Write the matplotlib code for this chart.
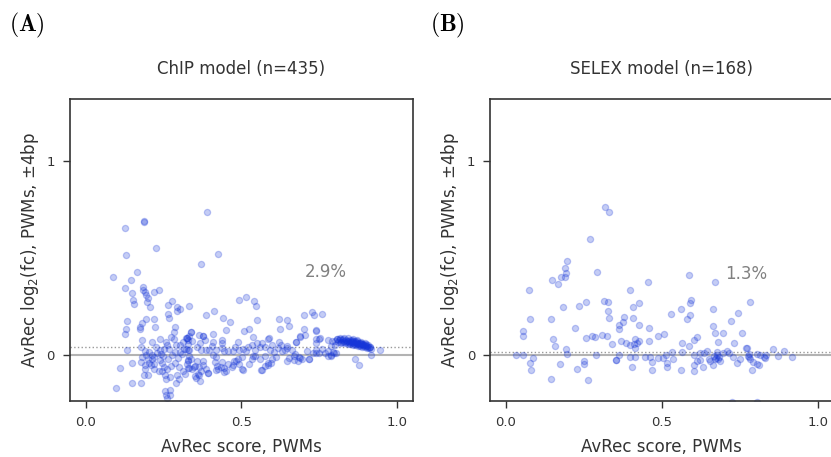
import matplotlib
matplotlib.use("Agg")
import matplotlib.pyplot as plt

plt.rcParams['font.family'] = ['DejaVu Sans']
plt.rcParams['mathtext.fontset'] = 'dejavusans'

# ChIP model (score, log2 fc) pairs
chip_outliers = [
    (0.389, 0.735), (0.186, 0.685), (0.188, 0.688), (0.126, 0.652), (0.130, 0.517),
    (0.227, 0.553), (0.426, 0.522), (0.369, 0.467), (0.087, 0.402), (0.165, 0.428),
    (0.146, 0.387), (0.126, 0.344), (0.183, 0.353), (0.185, 0.337), (0.191, 0.324),
    (0.194, 0.310), (0.200, 0.293), (0.198, 0.274), (0.206, 0.248), (0.149, 0.322),
    (0.153, 0.286), (0.155, 0.262), (0.220, 0.327), (0.236, 0.336), (0.264, 0.260),
    (0.278, 0.279), (0.293, 0.248), (0.304, 0.238), (0.293, 0.226), (0.263, 0.214),
    (0.266, 0.190), (0.333, 0.255), (0.412, 0.229), (0.386, 0.207), (0.440, 0.192),
    (0.492, 0.286), (0.514, 0.300), (0.541, 0.277), (0.547, 0.255), (0.132, 0.175),
    (0.131, 0.135), (0.125, 0.110), (0.194, 0.185), (0.218, 0.185), (0.223, 0.147),
    (0.180, 0.164), (0.176, 0.147), (0.175, 0.134), (0.286, 0.144), (0.285, 0.120),
    (0.464, 0.168), (0.451, 0.130), (0.549, 0.180), (0.621, 0.188), (0.647, 0.182),
    (0.652, 0.151), (0.624, 0.134), (0.701, 0.205), (0.726, 0.224), (0.731, 0.207),
    (0.758, 0.211), (0.702, 0.132), (0.704, 0.106), (0.739, 0.130), (0.739, 0.125),
    (0.507, 0.122), (0.524, 0.137), (0.536, 0.091), (0.587, 0.086), (0.688, 0.092),
    (0.675, 0.068),
]
chip_left = [
    (0.133, 0.029), (0.181, 0.077), (0.212, 0.067), (0.178, 0.044), (0.192, 0.020),
    (0.195, 0.000), (0.202, 0.017), (0.214, 0.003), (0.218, -0.008), (0.212, -0.019),
    (0.180, -0.008), (0.179, -0.035), (0.189, -0.052), (0.192, -0.069), (0.150, -0.038),
    (0.109, -0.068), (0.098, -0.169), (0.148, -0.145), (0.179, -0.145), (0.186, -0.104),
    (0.199, -0.104), (0.201, -0.020), (0.205, -0.038), (0.220, -0.073), (0.237, -0.080),
    (0.240, 0.029), (0.252, 0.033), (0.267, 0.033), (0.257, 0.067), (0.284, 0.081),
    (0.289, 0.050), (0.302, 0.050), (0.314, 0.067), (0.325, 0.089), (0.288, 0.016),
    (0.302, 0.016), (0.316, 0.033), (0.329, 0.028), (0.210, -0.052), (0.221, -0.045),
    (0.244, -0.042), (0.253, -0.063), (0.261, -0.073), (0.244, -0.082), (0.274, -0.056),
    (0.287, -0.042), (0.301, -0.059), (0.314, -0.080), (0.328, -0.066), (0.254, -0.104),
    (0.258, -0.125), (0.270, -0.111), (0.294, -0.104), (0.300, -0.125), (0.318, -0.099),
    (0.256, -0.184), (0.270, -0.178), (0.257, -0.204), (0.272, -0.204), (0.261, -0.223),
    (0.289, -0.145), (0.332, -0.005), (0.329, -0.031), (0.230, 0.010), (0.243, 0.005),
    (0.249, -0.005), (0.238, -0.025), (0.265, -0.020), (0.278, 0.000), (0.296, -0.015),
    (0.310, 0.005), (0.226, 0.042), (0.262, 0.050), (0.275, 0.095), (0.240, 0.085),
]
chip_mid = [
    (0.338, 0.118), (0.333, 0.101), (0.322, 0.089), (0.329, 0.080), (0.340, 0.072),
    (0.327, 0.055), (0.321, 0.033), (0.333, 0.029), (0.365, 0.103), (0.378, 0.101),
    (0.384, 0.077), (0.368, 0.060), (0.357, 0.043), (0.370, 0.029), (0.386, 0.024),
    (0.395, 0.029), (0.406, 0.046), (0.409, 0.067), (0.408, 0.111), (0.436, 0.080),
    (0.439, 0.060), (0.438, 0.038), (0.445, 0.021), (0.417, 0.024), (0.409, 0.003),
    (0.417, -0.009), (0.339, -0.022), (0.329, -0.026), (0.326, -0.048), (0.333, -0.065),
    (0.342, -0.073), (0.356, -0.031), (0.350, -0.056), (0.363, -0.060), (0.377, -0.053),
    (0.370, -0.082), (0.385, -0.073), (0.393, -0.091), (0.377, -0.031), (0.350, -0.108),
    (0.363, -0.104), (0.366, -0.133), (0.355, -0.116), (0.420, -0.056), (0.424, -0.073),
    (0.434, -0.059), (0.445, -0.065), (0.449, -0.082), (0.436, -0.036), (0.458, -0.045),
    (0.414, -0.034), (0.468, -0.062), (0.477, -0.031), (0.492, -0.048), (0.490, -0.022),
    (0.503, -0.009), (0.503, -0.073), (0.524, -0.048), (0.533, -0.019), (0.543, -0.002),
    (0.457, 0.021), (0.474, 0.021), (0.479, 0.043), (0.490, 0.067), (0.492, 0.029),
    (0.506, 0.033), (0.516, 0.021), (0.522, 0.043), (0.533, 0.050), (0.543, 0.029),
    (0.549, 0.063), (0.559, 0.043), (0.567, 0.063), (0.575, 0.043), (0.586, 0.084),
    (0.591, 0.029), (0.599, 0.050), (0.605, 0.016), (0.610, -0.008), (0.599, -0.022),
    (0.584, -0.039), (0.575, -0.056), (0.565, -0.077), (0.619, 0.067), (0.627, 0.050),
    (0.629, 0.021), (0.640, 0.029), (0.645, 0.046), (0.661, 0.029), (0.672, 0.004),
    (0.683, -0.008), (0.693, -0.022), (0.645, -0.031), (0.653, -0.014), (0.667, -0.026),
    (0.674, 0.070), (0.687, 0.096), (0.324, 0.089), (0.337, 0.118), (0.377, 0.098),
    (0.348, -0.060), (0.361, -0.099), (0.393, -0.091), (0.417, -0.074), (0.445, -0.087),
    (0.474, -0.053), (0.504, -0.077), (0.484, -0.031), (0.538, -0.005), (0.559, -0.022),
    (0.576, -0.005), (0.594, -0.039), (0.564, -0.079), (0.586, -0.051), (0.618, 0.038),
    (0.645, 0.038), (0.667, -0.005), (0.680, -0.031), (0.715, -0.022), (0.740, 0.012),
]
chip_right = [
    (0.758, 0.033), (0.777, -0.005), (0.786, 0.003), (0.797, 0.012), (0.804, 0.012),
    (0.865, -0.019), (0.878, -0.050), (0.916, 0.000), (0.945, 0.029), (0.739, 0.084),
    (0.750, 0.081), (0.752, 0.089), (0.738, 0.063), (0.739, 0.029), (0.729, 0.012),
    (0.747, 0.012), (0.709, 0.021), (0.718, -0.019), (0.688, -0.014), (0.769, 0.012),
    (0.779, 0.021), (0.787, -0.002), (0.795, 0.016), (0.787, 0.046), (0.779, 0.077),
    (0.790, 0.072), (0.806, 0.081), (0.801, 0.050),
]
chip_cluster = [
    (0.800, 0.075), (0.805, 0.082), (0.808, 0.068), (0.812, 0.078), (0.815, 0.085),
    (0.818, 0.070), (0.820, 0.062), (0.822, 0.076), (0.825, 0.081), (0.827, 0.068),
    (0.830, 0.074), (0.832, 0.060), (0.834, 0.079), (0.836, 0.066), (0.838, 0.072),
    (0.840, 0.058), (0.842, 0.075), (0.844, 0.064), (0.845, 0.070), (0.847, 0.080),
    (0.849, 0.056), (0.850, 0.067), (0.852, 0.073), (0.853, 0.061), (0.855, 0.077),
    (0.856, 0.052), (0.858, 0.066), (0.859, 0.071), (0.861, 0.059), (0.862, 0.064),
    (0.864, 0.074), (0.865, 0.050), (0.866, 0.062), (0.868, 0.068), (0.869, 0.055),
    (0.871, 0.060), (0.872, 0.072), (0.874, 0.047), (0.875, 0.058), (0.876, 0.065),
    (0.878, 0.053), (0.879, 0.061), (0.881, 0.045), (0.882, 0.057), (0.884, 0.064),
    (0.885, 0.050), (0.887, 0.055), (0.888, 0.042), (0.890, 0.059), (0.891, 0.048),
    (0.893, 0.053), (0.895, 0.040), (0.896, 0.051), (0.898, 0.045), (0.900, 0.055),
    (0.901, 0.038), (0.903, 0.047), (0.905, 0.042), (0.907, 0.050), (0.909, 0.036),
    (0.911, 0.044), (0.913, 0.040), (0.915, 0.033), (0.817, 0.088), (0.828, 0.090),
    (0.843, 0.086), (0.857, 0.082), (0.870, 0.078), (0.883, 0.070), (0.897, 0.062),
]

# SELEX model (score, log2 fc) pairs
selex_points = [
    (0.319, 0.762), (0.330, 0.735), (0.270, 0.598), (0.195, 0.483), (0.189, 0.449),
    (0.193, 0.423), (0.178, 0.404), (0.191, 0.404), (0.147, 0.384), (0.167, 0.365),
    (0.293, 0.428), (0.588, 0.414), (0.670, 0.377), (0.456, 0.375), (0.073, 0.334),
    (0.397, 0.334), (0.593, 0.284), (0.589, 0.267), (0.427, 0.267), (0.328, 0.274),
    (0.315, 0.281), (0.258, 0.274), (0.236, 0.255), (0.183, 0.250), (0.409, 0.248),
    (0.784, 0.274), (0.560, 0.236), (0.663, 0.236), (0.743, 0.219), (0.531, 0.212),
    (0.592, 0.207), (0.580, 0.187), (0.329, 0.228), (0.332, 0.193), (0.378, 0.195),
    (0.376, 0.173), (0.408, 0.190), (0.078, 0.187), (0.144, 0.187), (0.721, 0.175),
    (0.362, 0.156), (0.364, 0.132), (0.428, 0.156), (0.459, 0.142), (0.663, 0.151),
    (0.223, 0.142), (0.055, 0.125), (0.054, 0.101), (0.670, 0.116), (0.697, 0.116),
    (0.758, 0.113), (0.277, 0.101), (0.286, 0.092), (0.307, 0.106), (0.325, 0.101),
    (0.488, 0.099), (0.508, 0.110), (0.152, 0.082), (0.156, 0.045), (0.257, 0.087),
    (0.414, 0.082), (0.427, 0.075), (0.368, 0.072), (0.384, 0.063), (0.398, 0.053),
    (0.412, 0.055), (0.420, 0.060), (0.413, 0.038), (0.460, 0.075), (0.602, 0.077),
    (0.612, 0.092), (0.681, 0.067), (0.733, 0.062), (0.340, 0.055), (0.565, 0.060),
    (0.586, 0.045), (0.769, 0.039), (0.774, 0.036), (0.193, 0.031), (0.197, 0.007),
    (0.857, 0.033), (0.893, 0.019), (0.534, 0.017), (0.565, 0.017), (0.646, 0.021),
    (0.676, 0.015), (0.676, 0.002), (0.708, 0.022), (0.696, 0.009), (0.034, 0.000),
    (0.055, 0.000), (0.087, -0.017), (0.076, -0.038), (0.079, -0.075), (0.173, -0.043),
    (0.145, -0.125), (0.227, -0.072), (0.252, -0.029), (0.251, -0.048), (0.262, -0.127),
    (0.288, 0.000), (0.352, -0.026), (0.353, -0.026), (0.363, 0.000), (0.397, -0.007),
    (0.413, -0.009), (0.405, -0.062), (0.447, -0.012), (0.463, -0.012), (0.469, -0.033),
    (0.470, -0.075), (0.487, -0.014), (0.505, -0.014), (0.514, 0.000), (0.518, -0.039),
    (0.517, -0.060), (0.535, -0.021), (0.560, -0.074), (0.604, 0.000), (0.603, -0.051),
    (0.602, -0.082), (0.613, -0.029), (0.622, -0.026), (0.624, 0.012), (0.634, 0.009),
    (0.632, -0.060), (0.652, -0.019), (0.654, -0.031), (0.664, -0.050), (0.668, -0.005),
    (0.679, -0.022), (0.686, -0.029), (0.683, -0.010), (0.675, -0.014), (0.672, -0.019),
    (0.716, 0.010), (0.729, -0.009), (0.742, -0.039), (0.750, -0.019), (0.776, -0.005),
    (0.780, -0.012), (0.780, 0.005), (0.782, -0.022), (0.788, -0.075), (0.793, -0.036),
    (0.804, -0.043), (0.813, -0.050), (0.806, 0.007), (0.815, 0.002), (0.829, -0.010),
    (0.831, -0.017), (0.834, 0.002), (0.874, -0.005), (0.916, -0.010), (0.726, -0.240),
    (0.805, -0.240),
]

chip_points = chip_outliers + chip_left + chip_mid + chip_right + chip_cluster

panels = [
    ("(A)", "ChIP model (n=435)", chip_points, 0.041, "2.9%", 0.43),
    ("(B)", "SELEX model (n=168)", selex_points, 0.017, "1.3%", 0.415),
]

fig = plt.figure(figsize=(8.31, 4.57), dpi=100)
ax_left = [0.0842, 0.5900]
dark = '#333333'

for i, (tag, title, pts, thr, pct, pct_y) in enumerate(panels):
    ax = fig.add_axes([ax_left[i], 0.1225, 0.4128, 0.661])
    xs = [p[0] for p in pts]
    ys = [p[1] for p in pts]
    ax.axhline(0, color='#b3b3b3', lw=1.5, zorder=1)
    ax.axhline(thr, color='#999999', lw=1, ls=':', zorder=1)
    ax.scatter(xs, ys, s=20, facecolor='#1535d8', edgecolor='#1535d8',
               alpha=0.25, linewidths=0.9, zorder=2)
    ax.text(0.77, pct_y, pct, color='#808080', fontsize=12, ha='center', va='center')
    ax.set_xlim(-0.05, 1.05)
    ax.set_ylim(-0.236, 1.318)
    ax.set_xticks([0.0, 0.5, 1.0])
    ax.set_xticklabels(['0.0', '0.5', '1.0'])
    ax.set_yticks([0, 1])
    ax.tick_params(labelsize=9.5, colors=dark, length=5, width=1, pad=6)
    for sp in ax.spines.values():
        sp.set_color(dark)
        sp.set_linewidth(1.2)
    ax.set_title(title, fontsize=12, color=dark, pad=18)
    ax.set_xlabel('AvRec score, PWMs', fontsize=12, color=dark, labelpad=6)
    ax.set_ylabel(r'AvRec log$_2$(fc), PWMs, $\pm$4bp', fontsize=12, color=dark, labelpad=4)
    fig.text(ax_left[i] - 0.073, 0.945, r'$\mathbf{' + tag + '}$', fontsize=17,
             math_fontfamily='cm', va='center', ha='left', color='black')

fig.savefig('out.png', dpi=100)
